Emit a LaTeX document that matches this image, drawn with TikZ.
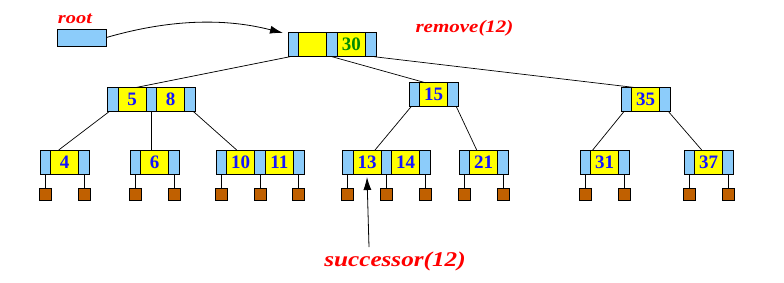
\documentclass[tikz,border=0pt]{standalone}
\usepackage{fontspec}
\setmainfont{Liberation Serif}
\newfontfamily\labfont[FakeStretch=1.2]{Liberation Serif}
\usepackage{tikz}
\usetikzlibrary{arrows.meta,positioning,calc}
\definecolor{PtrBlue}{RGB}{140,204,250}
\definecolor{KeyYellow}{RGB}{255,255,0}
\definecolor{LeafBrown}{RGB}{192,96,0}
\definecolor{KeyBlue}{RGB}{20,20,255}
\definecolor{KeyGreen}{RGB}{0,140,0}
\definecolor{LabRed}{RGB}{255,0,0}
\tikzset{
    % Pointer cell of a B-tree node
    ptrcell/.style={
        draw=black,
        fill=PtrBlue,
        line width=0.8pt,
        minimum width=10.7pt,
        minimum height=24pt,
        inner sep=0pt,
        outer sep=0pt
    },
    % Key cell of a B-tree node
    keycell/.style={
        ptrcell,
        fill=KeyYellow,
        minimum width=28pt,
        text=KeyBlue,
        font=\fontsize{19}{20}\selectfont\bfseries
    },
    % External leaf
    leafbox/.style={
        draw=black,
        fill=LeafBrown,
        line width=0.8pt,
        minimum size=12pt,
        inner sep=0pt,
        outer sep=0pt
    },
    % Red italic labels
    redlabel/.style={
        text=LabRed,
        inner sep=0pt,
        font=\labfont\bfseries\itshape
    },
    % Tree edge
    treeline/.style={
        line width=0.7pt,
        draw=black
    },
    % Arrow
    ptrarrow/.style={
        -{Latex[length=13pt,width=8pt]},
        line width=0.8pt,
        draw=black
    }
}
\begin{document}
\begin{tikzpicture}[x=1pt, y=-1pt]
    \useasboundingbox (0,0) rectangle (784,282);

    % root pointer
    \node[redlabel, font=\labfont\bfseries\itshape\fontsize{17}{18}\selectfont] (rootlab) at (75,19) {root};
    \node[draw=black, fill=PtrBlue, line width=0.8pt, minimum width=49pt, minimum height=17pt, inner sep=0pt] (rootbox) at (81.5,37.5) {};
    \node[redlabel, font=\labfont\bfseries\itshape\fontsize{17.5}{19}\selectfont] (remove) at (464.5,28) {remove(12)};
    \coordinate (rootend) at (283,33);

    % level 0
    \node[ptrcell, anchor=west] (n30p0) at (288,44.7) {};
    \node[keycell, right=0pt of n30p0] (n30k1) {};
    \node[ptrcell, right=0pt of n30k1] (n30p1) {};
    \node[keycell, right=0pt of n30p1, text=KeyGreen] (n30k2) {30};
    \node[ptrcell, right=0pt of n30k2] (n30p2) {};

    % level 1
    \node[ptrcell, anchor=west] (n58p0) at (107.3,99.5) {};
    \node[keycell, right=0pt of n58p0] (n58k1) {5};
    \node[ptrcell, right=0pt of n58k1] (n58p1) {};
    \node[keycell, right=0pt of n58p1] (n58k2) {8};
    \node[ptrcell, right=0pt of n58k2] (n58p2) {};

    \node[ptrcell, anchor=west] (n15p0) at (409,94.8) {};
    \node[keycell, right=0pt of n15p0] (n15k1) {15};
    \node[ptrcell, right=0pt of n15k1] (n15p1) {};

    \node[ptrcell, anchor=west] (n35p0) at (621,99.5) {};
    \node[keycell, right=0pt of n35p0] (n35k1) {35};
    \node[ptrcell, right=0pt of n35k1] (n35p1) {};

    % level 2
    \node[ptrcell, anchor=west] (n4p0) at (40,162) {};
    \node[keycell, right=0pt of n4p0] (n4k1) {4};
    \node[ptrcell, right=0pt of n4k1] (n4p1) {};

    \node[ptrcell, anchor=west] (n6p0) at (130,162) {};
    \node[keycell, right=0pt of n6p0] (n6k1) {6};
    \node[ptrcell, right=0pt of n6k1] (n6p1) {};

    \node[ptrcell, anchor=west] (n1011p0) at (216,162) {};
    \node[keycell, right=0pt of n1011p0] (n1011k1) {10};
    \node[ptrcell, right=0pt of n1011k1] (n1011p1) {};
    \node[keycell, right=0pt of n1011p1] (n1011k2) {11};
    \node[ptrcell, right=0pt of n1011k2] (n1011p2) {};

    \node[ptrcell, anchor=west] (n1314p0) at (342.3,162) {};
    \node[keycell, right=0pt of n1314p0] (n1314k1) {13};
    \node[ptrcell, right=0pt of n1314k1] (n1314p1) {};
    \node[keycell, right=0pt of n1314p1] (n1314k2) {14};
    \node[ptrcell, right=0pt of n1314k2] (n1314p2) {};

    \node[ptrcell, anchor=west] (n21p0) at (459,162) {};
    \node[keycell, right=0pt of n21p0] (n21k1) {21};
    \node[ptrcell, right=0pt of n21k1] (n21p1) {};

    \node[ptrcell, anchor=west] (n31p0) at (580,162) {};
    \node[keycell, right=0pt of n31p0] (n31k1) {31};
    \node[ptrcell, right=0pt of n31k1] (n31p1) {};

    \node[ptrcell, anchor=west] (n37p0) at (684,162) {};
    \node[keycell, right=0pt of n37p0] (n37k1) {37};
    \node[ptrcell, right=0pt of n37k1] (n37p1) {};

    % leaves
    \node[leafbox, below=14pt of n4p0] (l4a) {};
    \node[leafbox, below=14pt of n4p1] (l4b) {};
    \node[leafbox, below=14pt of n6p0] (l6a) {};
    \node[leafbox, below=14pt of n6p1] (l6b) {};
    \node[leafbox, below=14pt of n1011p0] (l1011a) {};
    \node[leafbox, below=14pt of n1011p1] (l1011b) {};
    \node[leafbox, below=14pt of n1011p2] (l1011c) {};
    \node[leafbox, below=14pt of n1314p0] (l1314a) {};
    \node[leafbox, below=14pt of n1314p1] (l1314b) {};
    \node[leafbox, below=14pt of n1314p2] (l1314c) {};
    \node[leafbox, below=14pt of n21p0] (l21a) {};
    \node[leafbox, below=14pt of n21p1] (l21b) {};
    \node[leafbox, below=14pt of n31p0] (l31a) {};
    \node[leafbox, below=14pt of n31p1] (l31b) {};
    \node[leafbox, below=14pt of n37p0] (l37a) {};
    \node[leafbox, below=14pt of n37p1] (l37b) {};

    % successor label
    \node[redlabel, font=\labfont\bfseries\itshape\fontsize{21}{23}\selectfont] (succ) at (395,261) {successor(12)};
    \coordinate (succtail) at (369,247);

    % tree edges
    \draw[treeline] ([xshift=2pt]n30p0.south west) -- ([xshift=4pt]n58k1.north);
    \draw[treeline] (n30p1.south) -- ([xshift=-8pt]n15k1.north);
    \draw[treeline] ([xshift=-2pt]n30p2.south east) -- ([xshift=-11pt]n35k1.north);
    \draw[treeline] ([xshift=2pt]n58p0.south west) -- ([xshift=-6pt]n4k1.north);
    \draw[treeline] (n58p1.south) -- (n58p1.south |- n6k1.north);
    \draw[treeline] ([xshift=-2pt]n58p2.south east) -- ([xshift=-4pt]n1011k1.north);
    \draw[treeline] ([xshift=2pt]n15p0.south west) -- ([xshift=8pt]n1314k1.north);
    \draw[treeline] ([xshift=-2pt]n15p1.south east) -- ([xshift=-7pt]n21k1.north);
    \draw[treeline] ([xshift=3pt]n35p0.south west) -- ([xshift=-12pt]n31k1.north);
    \draw[treeline] ([xshift=-2pt]n35p1.south east) -- ([xshift=-7pt]n37k1.north);

    % leaf edges
    \draw[treeline] (n4p0.south) -- (l4a.north);
    \draw[treeline] (n4p1.south) -- (l4b.north);
    \draw[treeline] (n6p0.south) -- (l6a.north);
    \draw[treeline] (n6p1.south) -- (l6b.north);
    \draw[treeline] (n1011p0.south) -- (l1011a.north);
    \draw[treeline] (n1011p1.south) -- (l1011b.north);
    \draw[treeline] (n1011p2.south) -- (l1011c.north);
    \draw[treeline] (n1314p0.south) -- (l1314a.north);
    \draw[treeline] (n1314p1.south) -- (l1314b.north);
    \draw[treeline] (n1314p2.south) -- (l1314c.north);
    \draw[treeline] (n21p0.south) -- (l21a.north);
    \draw[treeline] (n21p1.south) -- (l21b.north);
    \draw[treeline] (n31p0.south) -- (l31a.north);
    \draw[treeline] (n31p1.south) -- (l31b.north);
    \draw[treeline] (n37p0.south) -- (l37a.north);
    \draw[treeline] (n37p1.south) -- (l37b.north);

    % arrows
    \draw[ptrarrow] (rootbox.east) .. controls (160,22) and (217,16) .. (rootend);
    \draw[ptrarrow] (succtail) -- ([yshift=-3pt]n1314k1.south);
\end{tikzpicture}
\end{document}
